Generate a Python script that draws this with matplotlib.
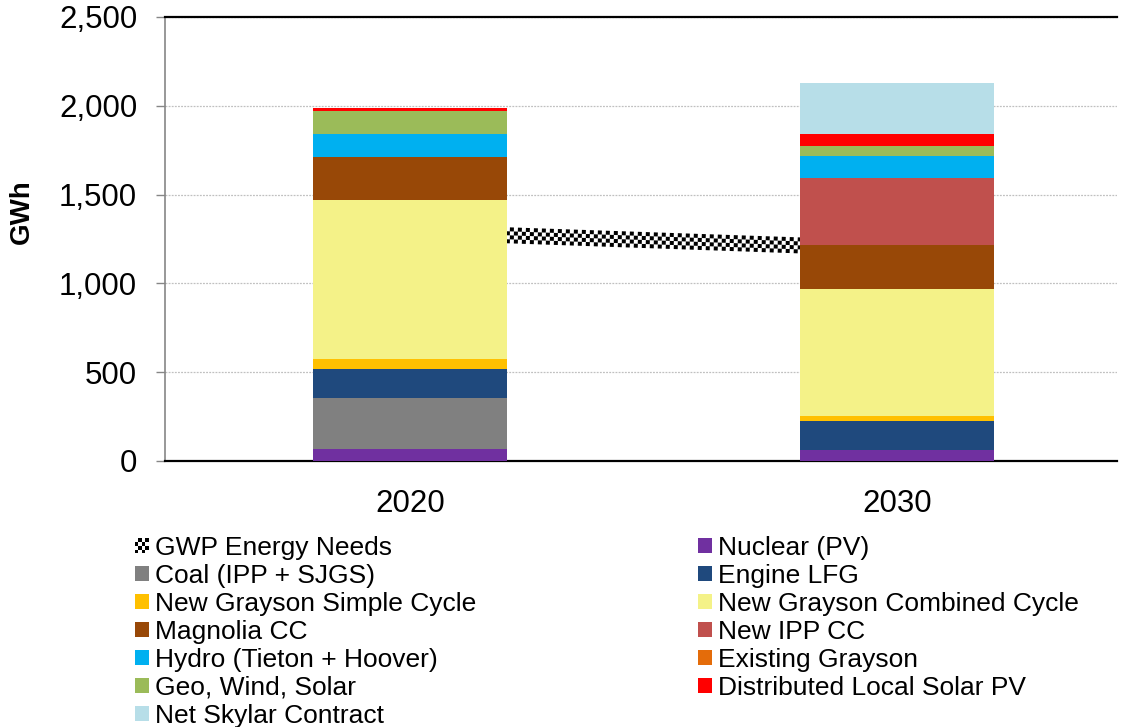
import matplotlib
matplotlib.use("Agg")
import matplotlib.pyplot as plt
import matplotlib.patches as mpatches
import matplotlib.transforms as mtransforms
from matplotlib.legend_handler import HandlerBase
from matplotlib.ticker import FuncFormatter, MultipleLocator

plt.rcParams["font.family"] = ["Liberation Sans", "DejaVu Sans"]

# ---- data (GWh) ----
years = ["2020", "2030"]
nuclear = [70, 60]
coal = [283, 0]
engine_lfg = [164, 163]
grayson_sc = [56, 28]
grayson_cc = [897, 720]
magnolia = [244, 246]
new_ipp_cc = [0, 377]
hydro = [128, 124]
existing_grayson = [0, 0]
geo_wind_solar = [131, 58]
dist_solar = [14, 66]
skylar = [0, 287]
gwp_needs = [1290, 1195]

# stacking order bottom -> top
stack = [
    ("Nuclear (PV)", nuclear, "#7030A0"),
    ("Coal (IPP + SJGS)", coal, "#808080"),
    ("Engine LFG", engine_lfg, "#1F497D"),
    ("New Grayson Simple Cycle", grayson_sc, "#FFC000"),
    ("New Grayson Combined Cycle", grayson_cc, "#F4F288"),
    ("Magnolia CC", magnolia, "#984807"),
    ("New IPP CC", new_ipp_cc, "#C0504D"),
    ("Hydro (Tieton + Hoover)", hydro, "#00B0F0"),
    ("Existing Grayson", existing_grayson, "#E46C0A"),
    ("Geo, Wind, Solar", geo_wind_solar, "#9BBB59"),
    ("Distributed Local Solar PV", dist_solar, "#FF0000"),
    ("Net Skylar Contract", skylar, "#B7DEE8"),
]

W, H = 1130, 727
fig = plt.figure(figsize=(W / 100, H / 100), dpi=100)
ax = fig.add_axes([165 / W, 1 - 461 / H, (1117 - 165) / W, (461 - 17) / H])

x = list(range(len(years)))
bottoms = [0.0] * len(years)
patches = {}
for name, vals, color in stack:
    ax.bar(x, vals, width=0.4, bottom=bottoms, color=color,
           edgecolor="none", zorder=3, label=name)
    patches[name] = mpatches.Patch(facecolor=color, edgecolor="none")
    bottoms = [b + v for b, v in zip(bottoms, vals)]

# GWP energy needs line with a checkered pattern (white base + offset dashed rows)
px = 72 / 100  # points per pixel
ax.plot(x, gwp_needs, color="white", lw=16 * px, solid_capstyle="butt", zorder=2)
row_px = 4
for i, dy in enumerate([-6, -2, 2, 6]):
    tr = mtransforms.offset_copy(ax.transData, fig=fig, x=0, y=dy * px, units="points")
    ax.plot(x, gwp_needs, color="black", lw=row_px * px, transform=tr,
            linestyle=(i % 2, (1, 1)), dash_capstyle="butt", zorder=2.1)

# axes styling
ax.set_xlim(-0.503, 1.452)
ax.set_ylim(0, 2500)
ax.yaxis.set_major_locator(MultipleLocator(500))
ax.yaxis.set_major_formatter(FuncFormatter(lambda v, p: f"{int(v):,}"))
ax.set_xticks(x)
ax.set_xticklabels(years)
ax.tick_params(axis="x", length=0, pad=20, labelsize=22.5)
ax.tick_params(axis="y", length=6.5, width=1, color="#868686", pad=13.5,
               labelsize=22.5, direction="out")
for lbl in ax.get_yticklabels():
    lbl.set_color("black")

ax.grid(axis="y", color="#C0C0C0", linestyle=(0, (1.5, 1)), linewidth=0.9, zorder=0)
ax.set_axisbelow(True)
ax.spines["right"].set_visible(False)
ax.spines["left"].set_color("#868686")
ax.spines["left"].set_linewidth(1.2)
ax.spines["top"].set_color("black")
ax.spines["top"].set_linewidth(1.6)
ax.spines["bottom"].set_color("black")
ax.spines["bottom"].set_linewidth(1.6)

fig.text(22 / W, 1 - 212 / H, "GWh", rotation=90, fontsize=20, fontweight="bold",
         ha="center", va="center")


# legend handle: small checkerboard square
class CheckerKey:
    pass


class HandlerChecker(HandlerBase):
    def create_artists(self, legend, orig_handle, xdescent, ydescent, width,
                       height, fontsize, trans):
        arts = []
        n = 4
        cw, ch = width / n, height / n
        for r in range(n):
            for c in range(n):
                col = "black" if (r + c) % 2 == 0 else "white"
                arts.append(mpatches.Rectangle((-xdescent + c * cw, -ydescent + r * ch),
                                               cw, ch, facecolor=col, edgecolor="none",
                                               transform=trans))
        return arts


order_left = ["Coal (IPP + SJGS)", "New Grayson Simple Cycle", "Magnolia CC",
              "Hydro (Tieton + Hoover)", "Geo, Wind, Solar", "Net Skylar Contract"]
order_right = ["Nuclear (PV)", "Engine LFG", "New Grayson Combined Cycle", "New IPP CC",
               "Existing Grayson", "Distributed Local Solar PV"]
gwp_key = CheckerKey()
handles = [gwp_key] + [patches[n] for n in order_left] + [patches[n] for n in order_right]
labels = ["GWP Energy Needs"] + order_left + order_right

leg = fig.legend(handles, labels, loc="upper left",
                 bbox_to_anchor=(135 / W, 1 - 536 / H), ncol=2, frameon=False,
                 fontsize=19, borderpad=0, borderaxespad=0, handlelength=0.53,
                 handleheight=0.53, handletextpad=0.22, labelspacing=0.15,
                 columnspacing=8.4,
                 handler_map={CheckerKey: HandlerChecker()})

fig.savefig("out.png", dpi=100)
